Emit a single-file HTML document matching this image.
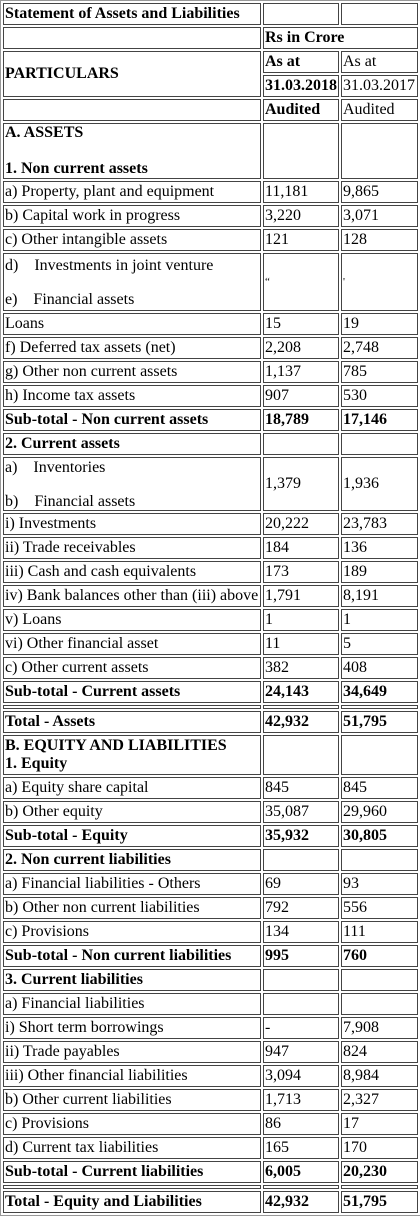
<!DOCTYPE html>
<html><head><meta charset="utf-8">
<style>
html,body{margin:0;padding:0;background:#fff;}
body{width:420px;height:1216px;overflow:hidden;}
table{border-collapse:separate;border-spacing:2px;border:1px solid #999;width:420px;box-sizing:border-box;font-family:"Liberation Serif",serif;font-size:16px;color:#000;table-layout:fixed;}
td{border:1px solid #444;padding:0 1px;height:22px;line-height:18px;vertical-align:middle;white-space:nowrap;overflow:hidden;box-sizing:border-box;}
tr{height:22px;}
td.b{font-weight:bold;}
tr.tall3 td{height:56px;}
tr.tall3b td{height:58px;}
tr.tall2 td{height:54px;}
tr.tallB td{height:40px;}
tr.gap td{height:4px;line-height:0;font-size:0;padding:0;}
td.top{vertical-align:top;}
</style></head><body>
<table>
<colgroup><col style="width:258px"><col style="width:76px"><col style="width:77px"></colgroup>
<tr><td class="b">Statement of Assets and Liabilities</td><td></td><td></td></tr>
<tr><td></td><td class="b" colspan="2">Rs in Crore</td></tr>
<tr><td class="b" rowspan="2" style="height:46px">PARTICULARS</td><td class="b">As at</td><td>As at</td></tr>
<tr><td class="b">31.03.2018</td><td>31.03.2017</td></tr>
<tr><td></td><td class="b">Audited</td><td>Audited</td></tr>
<tr class="tall3"><td class="b top" style="line-height:18px">A. ASSETS<br><br>1. Non current assets</td><td></td><td></td></tr>
<tr><td>a) Property, plant and equipment</td><td>11,181</td><td>9,865</td></tr>
<tr><td>b) Capital work in progress</td><td>3,220</td><td>3,071</td></tr>
<tr><td>c) Other intangible assets</td><td>121</td><td>128</td></tr>
<tr class="tall3b"><td style="line-height:17px">d)&nbsp;&nbsp;&nbsp;&nbsp;Investments in joint venture<br><br>e)&nbsp;&nbsp;&nbsp;&nbsp;Financial assets</td><td style="font-size:11px">“</td><td style="font-size:11px">'</td></tr>
<tr><td>Loans</td><td>15</td><td>19</td></tr>
<tr><td>f) Deferred tax assets (net)</td><td>2,208</td><td>2,748</td></tr>
<tr><td>g) Other non current assets</td><td>1,137</td><td>785</td></tr>
<tr><td>h) Income tax assets</td><td>907</td><td>530</td></tr>
<tr><td class="b">Sub-total - Non current assets</td><td class="b">18,789</td><td class="b">17,146</td></tr>
<tr><td class="b">2. Current assets</td><td></td><td></td></tr>
<tr class="tall2"><td style="line-height:17px">a)&nbsp;&nbsp;&nbsp;&nbsp;Inventories<br><br>b)&nbsp;&nbsp;&nbsp;&nbsp;Financial assets</td><td>1,379</td><td>1,936</td></tr>
<tr><td>i) Investments</td><td>20,222</td><td>23,783</td></tr>
<tr><td>ii) Trade receivables</td><td>184</td><td>136</td></tr>
<tr><td>iii) Cash and cash equivalents</td><td>173</td><td>189</td></tr>
<tr><td>iv) Bank balances other than (iii) above</td><td>1,791</td><td>8,191</td></tr>
<tr><td>v) Loans</td><td>1</td><td>1</td></tr>
<tr><td>vi) Other financial asset</td><td>11</td><td>5</td></tr>
<tr><td>c) Other current assets</td><td>382</td><td>408</td></tr>
<tr><td class="b">Sub-total - Current assets</td><td class="b">24,143</td><td class="b">34,649</td></tr>
<tr class="gap" style="height:4px"><td></td><td></td><td></td></tr>
<tr><td class="b">Total - Assets</td><td class="b">42,932</td><td class="b">51,795</td></tr>
<tr class="tallB"><td class="b" style="line-height:18px">B. EQUITY AND LIABILITIES<br>1. Equity</td><td></td><td></td></tr>
<tr><td>a) Equity share capital</td><td>845</td><td>845</td></tr>
<tr><td>b) Other equity</td><td>35,087</td><td>29,960</td></tr>
<tr><td class="b">Sub-total - Equity</td><td class="b">35,932</td><td class="b">30,805</td></tr>
<tr><td class="b">2. Non current liabilities</td><td></td><td></td></tr>
<tr><td>a) Financial liabilities - Others</td><td>69</td><td>93</td></tr>
<tr><td>b) Other non current liabilities</td><td>792</td><td>556</td></tr>
<tr><td>c) Provisions</td><td>134</td><td>111</td></tr>
<tr><td class="b">Sub-total - Non current liabilities</td><td class="b">995</td><td class="b">760</td></tr>
<tr><td class="b">3. Current liabilities</td><td></td><td></td></tr>
<tr><td>a) Financial liabilities</td><td></td><td></td></tr>
<tr><td>i) Short term borrowings</td><td>-</td><td>7,908</td></tr>
<tr><td>ii) Trade payables</td><td>947</td><td>824</td></tr>
<tr><td>iii) Other financial liabilities</td><td>3,094</td><td>8,984</td></tr>
<tr><td>b) Other current liabilities</td><td>1,713</td><td>2,327</td></tr>
<tr><td>c) Provisions</td><td>86</td><td>17</td></tr>
<tr><td>d) Current tax liabilities</td><td>165</td><td>170</td></tr>
<tr><td class="b">Sub-total - Current liabilities</td><td class="b">6,005</td><td class="b">20,230</td></tr>
<tr class="gap" style="height:4px"><td></td><td></td><td></td></tr>
<tr><td class="b">Total - Equity and Liabilities</td><td class="b">42,932</td><td class="b">51,795</td></tr>
</table>
</body></html>
